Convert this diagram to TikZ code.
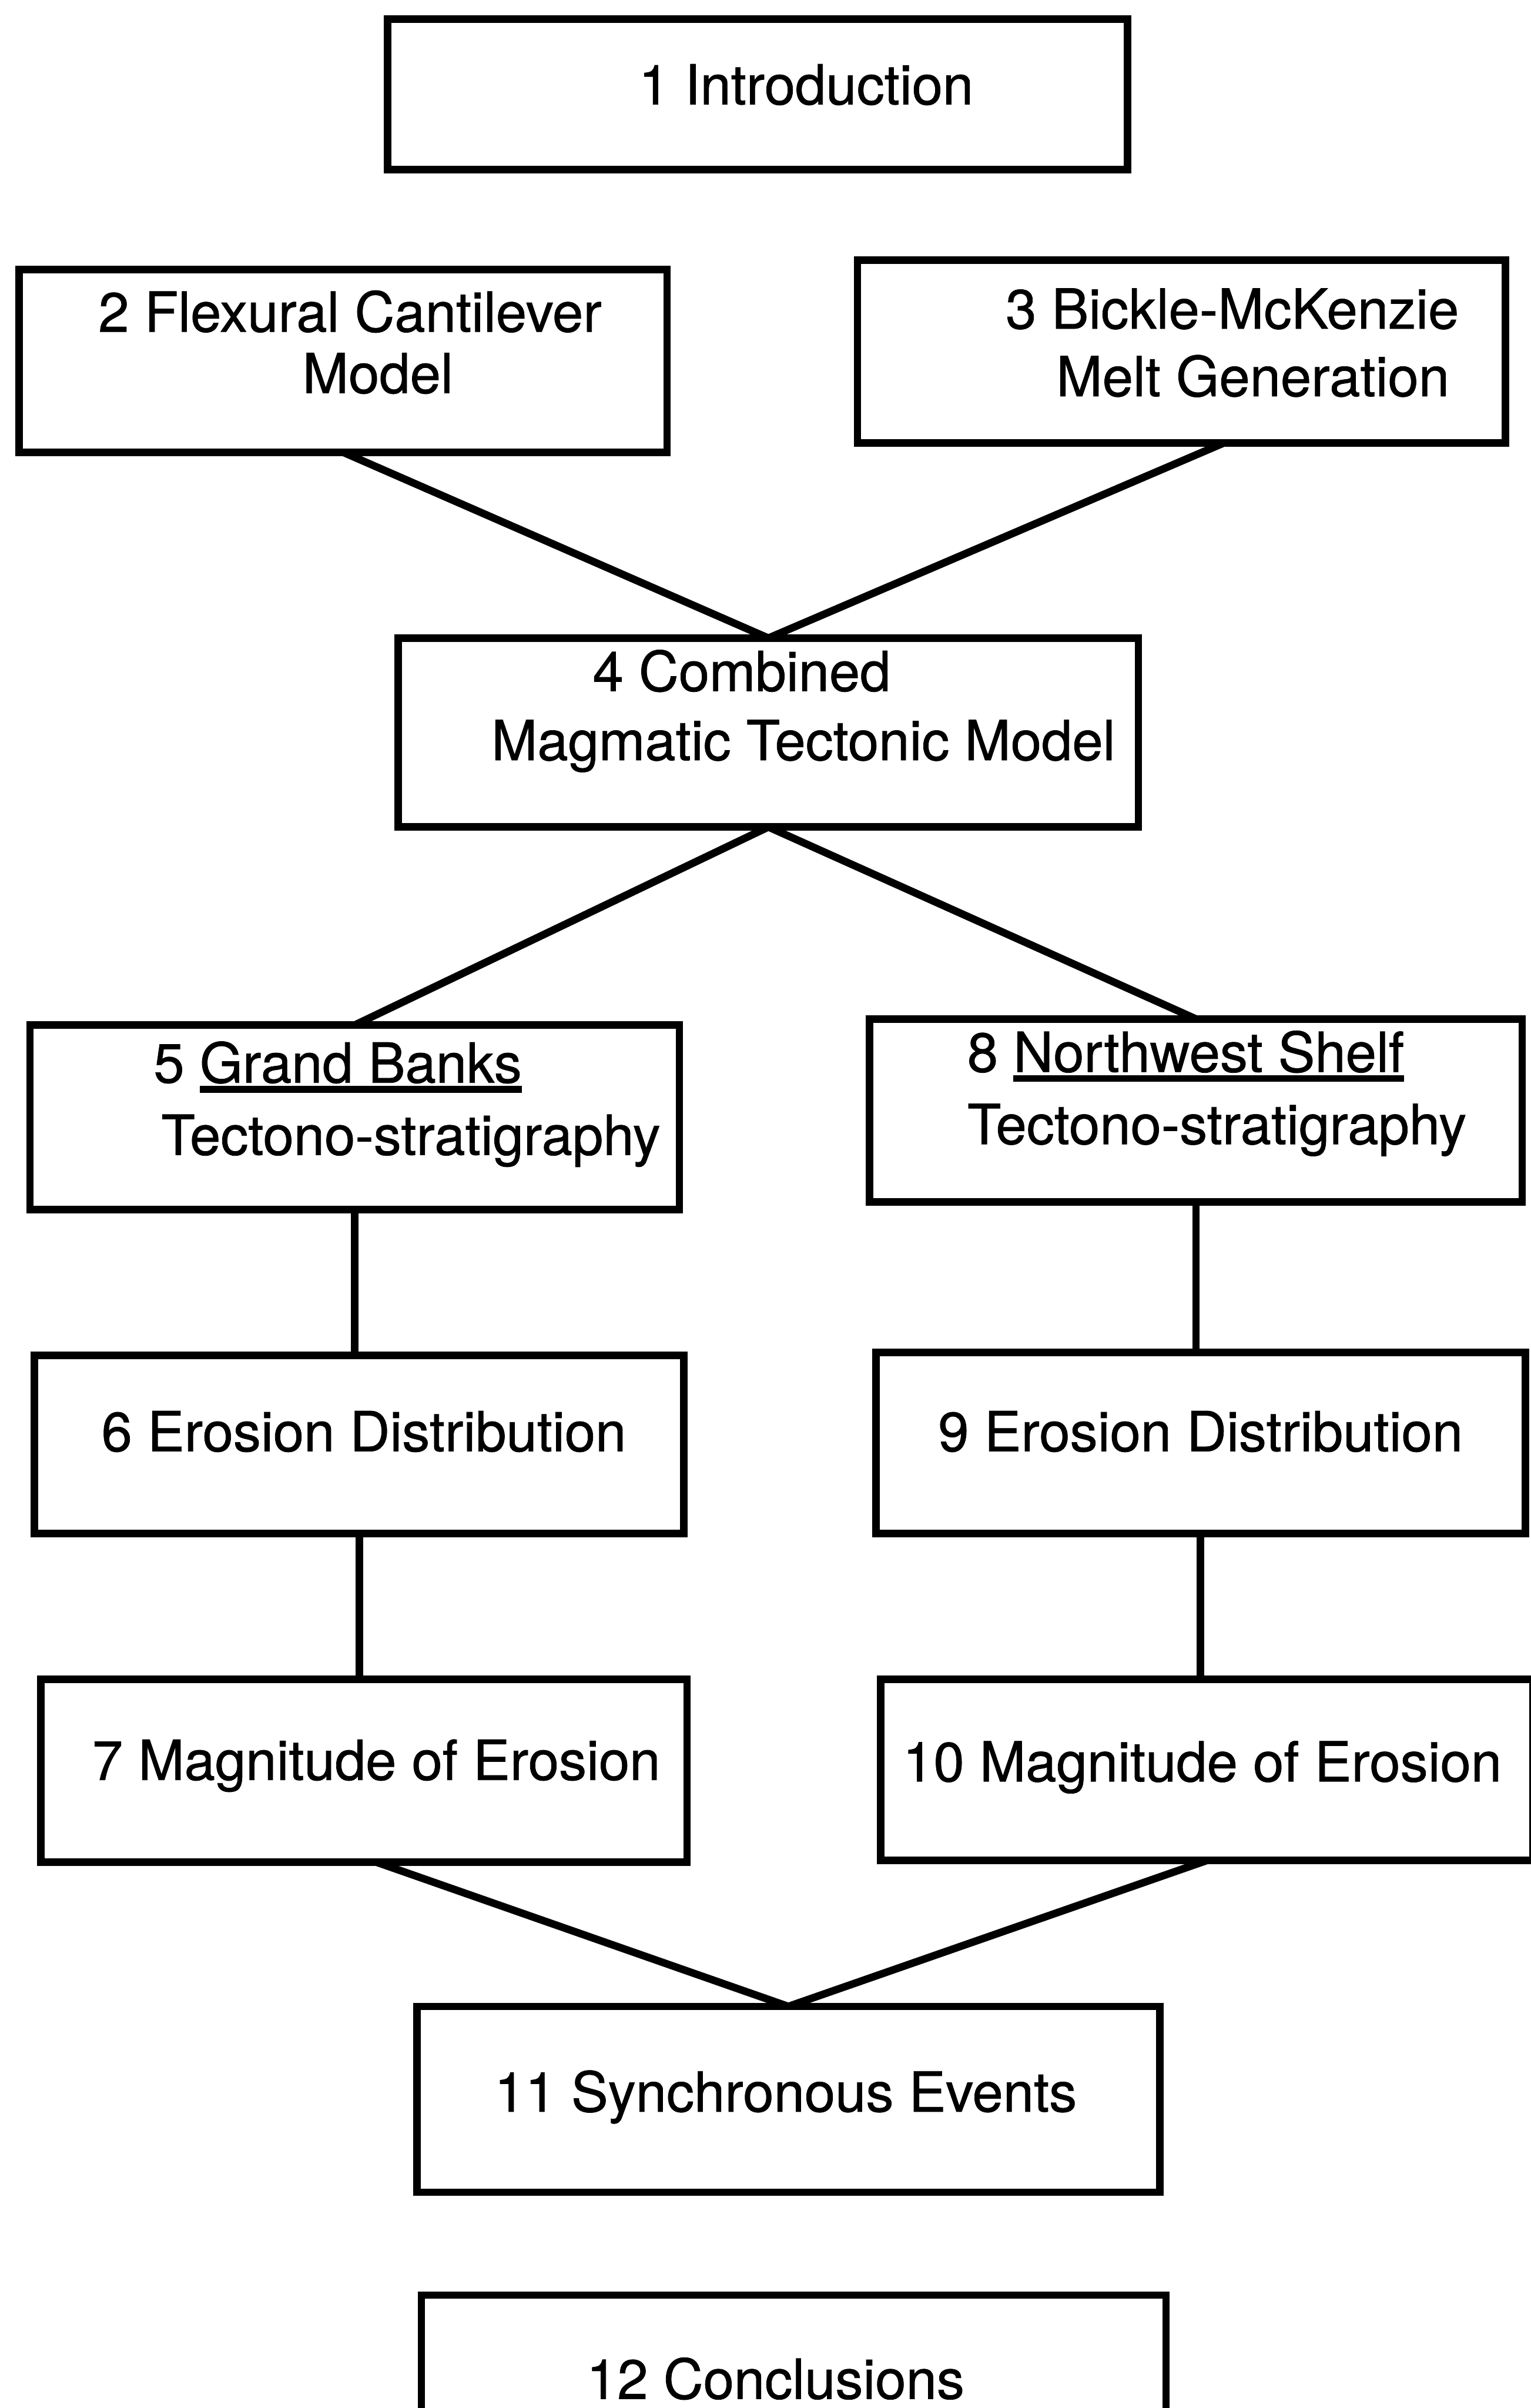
\documentclass[tikz,border=0pt]{standalone}
\usepackage{fontspec}
\setmainfont[FakeBold=0.8]{TeX Gyre Heros}
\newcommand\ulword[1]{\setbox0\hbox{#1}\rlap{\rule[-6.5mm]{\wd0}{4.5mm}}\box0}

\begin{document}
\begin{tikzpicture}[x=1mm, y=-1mm]
\tikzset{ box/.style={draw, line width=4.9mm, inner sep=0pt, outer sep=0pt},
          txt/.style={anchor=base west, inner sep=0pt, font=\fontsize{36mm}{44mm}\selectfont},
          link/.style={line width=4.9mm} }

\useasboundingbox (0,0) rectangle (997,1568);

\node [box, minimum width=482mm, minimum height=98mm]  (B1)  at (493.5,61.5) {};
\node [box, minimum width=422mm, minimum height=119mm] (B2)  at (223.5,235)  {};
\node [box, minimum width=422mm, minimum height=119mm] (B3)  at (769.5,229)  {};
\node [box, minimum width=482mm, minimum height=123mm] (B4)  at (500.5,477)  {};
\node [box, minimum width=423mm, minimum height=120mm] (B5)  at (231,727.5)  {};
\node [box, minimum width=423mm, minimum height=116mm] (B6)  at (234,940.5)  {};
\node [box, minimum width=421mm, minimum height=119mm] (B7)  at (237,1153)   {};
\node [box, minimum width=425mm, minimum height=119mm] (B8)  at (779,723)    {};
\node [box, minimum width=423mm, minimum height=118mm] (B9)  at (782,939.5)  {};
\node [box, minimum width=425mm, minimum height=118mm] (B10) at (786,1152.5) {};
\node [box, minimum width=484mm, minimum height=121mm] (B11) at (513.5,1367) {};
\node [box, minimum width=485mm, minimum height=121mm] (B12) at (517,1555)   {};

\node [txt] (T1)  at (416,68)   {1 Introduction};
\node [txt] (T2a) at (64,216)   {2 Flexural Cantilever};
\node [txt] (T2b) at (197,256)  {Model};
\node [txt] (T3a) at (655,214)  {3 Bickle-McKenzie};
\node [txt] (T3b) at (688,258)  {Melt Generation};
\node [txt] (T4a) at (386,450)  {4 Combined};
\node [txt] (T4b) at (320,495)  {Magmatic Tectonic Model};
\node [txt] (T5a) at (100,705)  {5 \ulword{Grand Banks}};
\node [txt] (T5b) at (105,752)  {Tectono-stratigraphy};
\node [txt] (T6)  at (66,945)   {6 Erosion Distribution};
\node [txt] (T7)  at (60,1159)  {7 Magnitude of Erosion};
\node [txt] (T8a) at (630,698)  {8 \ulword{Northwest Shelf}};
\node [txt] (T8b) at (630,745)  {Tectono-stratigraphy};
\node [txt] (T9)  at (611,945)  {9 Erosion Distribution};
\node [txt] (T10) at (588,1160) {10 Magnitude of Erosion};
\node [txt] (T11) at (322,1375) {11 Synchronous Events};
\node [txt] (T12) at (382,1562) {12 Conclusions};

% models into the combined model
\draw [link] (B2.south) -- (B4.north);
\draw [link] ([xshift=27.5mm]B3.south) -- (B4.north);

\draw [link] (B4.south) -- (B5.north);
\draw [link] (B4.south) -- (B8.north);

\draw [link] (B5.south) -- (B5.south |- B6.north);
\draw [link] (B6.south) -- (B6.south |- B7.north);
\draw [link] (B8.south) -- (B8.south |- B9.north);
\draw [link] (B9.south) -- (B9.south |- B10.north);

\draw [link] ([xshift=8mm]B7.south) -- (B11.north);
\draw [link] (B10.south) -- (B11.north);
\end{tikzpicture}
\end{document}
